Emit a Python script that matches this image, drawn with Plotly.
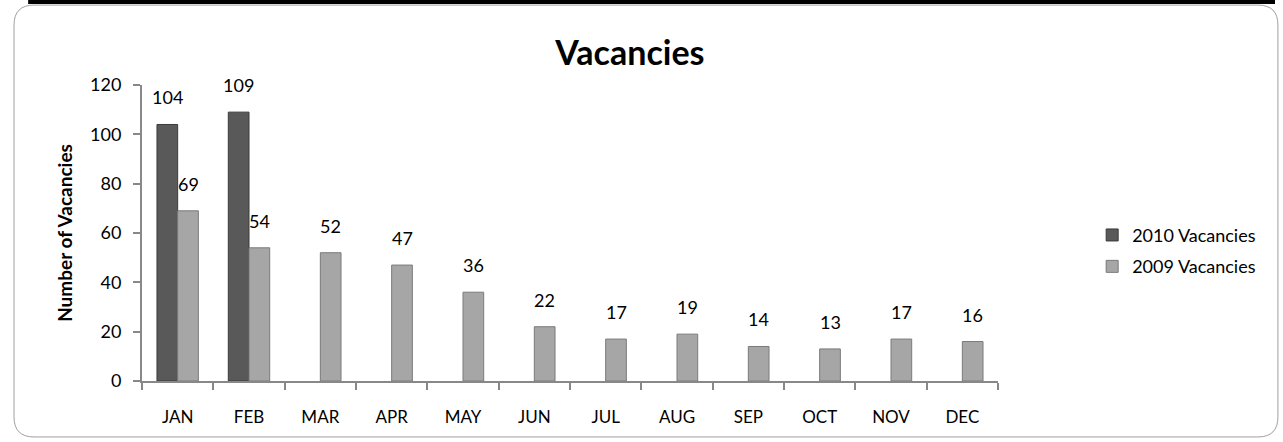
import plotly.graph_objects as go

months = ["JAN", "FEB", "MAR", "APR", "MAY", "JUN", "JUL", "AUG", "SEP", "OCT", "NOV", "DEC"]
vac_2010 = [104, 109, None, None, None, None, None, None, None, None, None, None]
vac_2009 = [69, 54, 52, 47, 36, 22, 17, 19, 14, 13, 17, 16]

FONT = "Lato, Open Sans, sans-serif"
C2010 = "#595959"
C2009 = "#a6a6a6"
BAR_HALF = 10.5  # px, half of one bar's width

fig = go.Figure()
fig.add_trace(go.Bar(x=months, y=vac_2010, name="2010 Vacancies", legendgroup="a",
                     marker=dict(color=C2010, line=dict(color="#3a3a3a", width=1))))
fig.add_trace(go.Bar(x=months, y=vac_2009, name="2009 Vacancies", legendgroup="b",
                     marker=dict(color=C2009, line=dict(color="#7a7a7a", width=1))))

# value labels above each bar
for vals, shift in ((vac_2010, -BAR_HALF), (vac_2009, BAR_HALF)):
    for m, v in zip(months, vals):
        if v is None:
            continue
        fig.add_annotation(x=m, y=v, text=str(v), showarrow=False,
                           xshift=shift, yshift=27, yanchor="middle",
                           font=dict(family=FONT, size=18, color="#000"))

# frame (rounded box + black strip on top)
L, R, T, B, RX, RY = -0.1495, 1.327, 1.270, -0.189, 0.0234, 0.0676
fig.add_shape(type="path", xref="paper", yref="paper", layer="below",
              path=(f"M {L},{T - RY} Q {L},{T} {L + RX},{T} "
                    f"L {R - RX},{T} Q {R},{T} {R},{T - RY} "
                    f"L {R},{B + RY} Q {R},{B} {R - RX},{B} "
                    f"L {L + RX},{B} Q {L},{B} {L},{B + RY} Z"),
              line=dict(color="#a0a0a0", width=1))
fig.add_shape(type="rect", xref="paper", yref="paper",
              x0=-0.133, x1=1.3236, y0=1.2736, y1=1.29,
              fillcolor="#000", line=dict(width=0))

fig.update_layout(
    width=1283, height=442,
    margin=dict(l=142, r=285, t=85, b=61, autoexpand=False),
    paper_bgcolor="white", plot_bgcolor="white",
    barmode="group", bargap=0.42, bargroupgap=0,
    font=dict(family=FONT, size=17, color="#000"),
    title=dict(text="<b>Vacancies</b>", x=0.491, xref="container", xanchor="center",
               y=0.88, yanchor="middle",
               font=dict(family=FONT, size=34, color="#000")),
    legend=dict(x=1.11, y=0.44, xanchor="left", yanchor="middle",
                font=dict(family=FONT, size=18), itemwidth=30, tracegroupgap=5),
    showlegend=True,
)
fig.update_xaxes(showline=True, linecolor="#888", linewidth=2,
                 ticks="outside", ticklen=7, tickcolor="#888", tickwidth=1.5,
                 tickson="boundaries", ticklabelstandoff=20,
                 tickfont=dict(family=FONT, size=17), showgrid=False)
fig.update_yaxes(range=[0, 120], dtick=20, showline=True, linecolor="#888", linewidth=2,
                 ticks="outside", ticklen=7, tickcolor="#888", tickwidth=1.5,
                 ticklabelstandoff=8, showgrid=False, zeroline=False,
                 tickfont=dict(family=FONT, size=18),
                 title=dict(text="<b>Number of Vacancies</b>", standoff=12,
                            font=dict(family=FONT, size=19)))

fig.write_html("out.html", config={"displayModeBar": False},
               post_script="document.body.style.margin='0';")
